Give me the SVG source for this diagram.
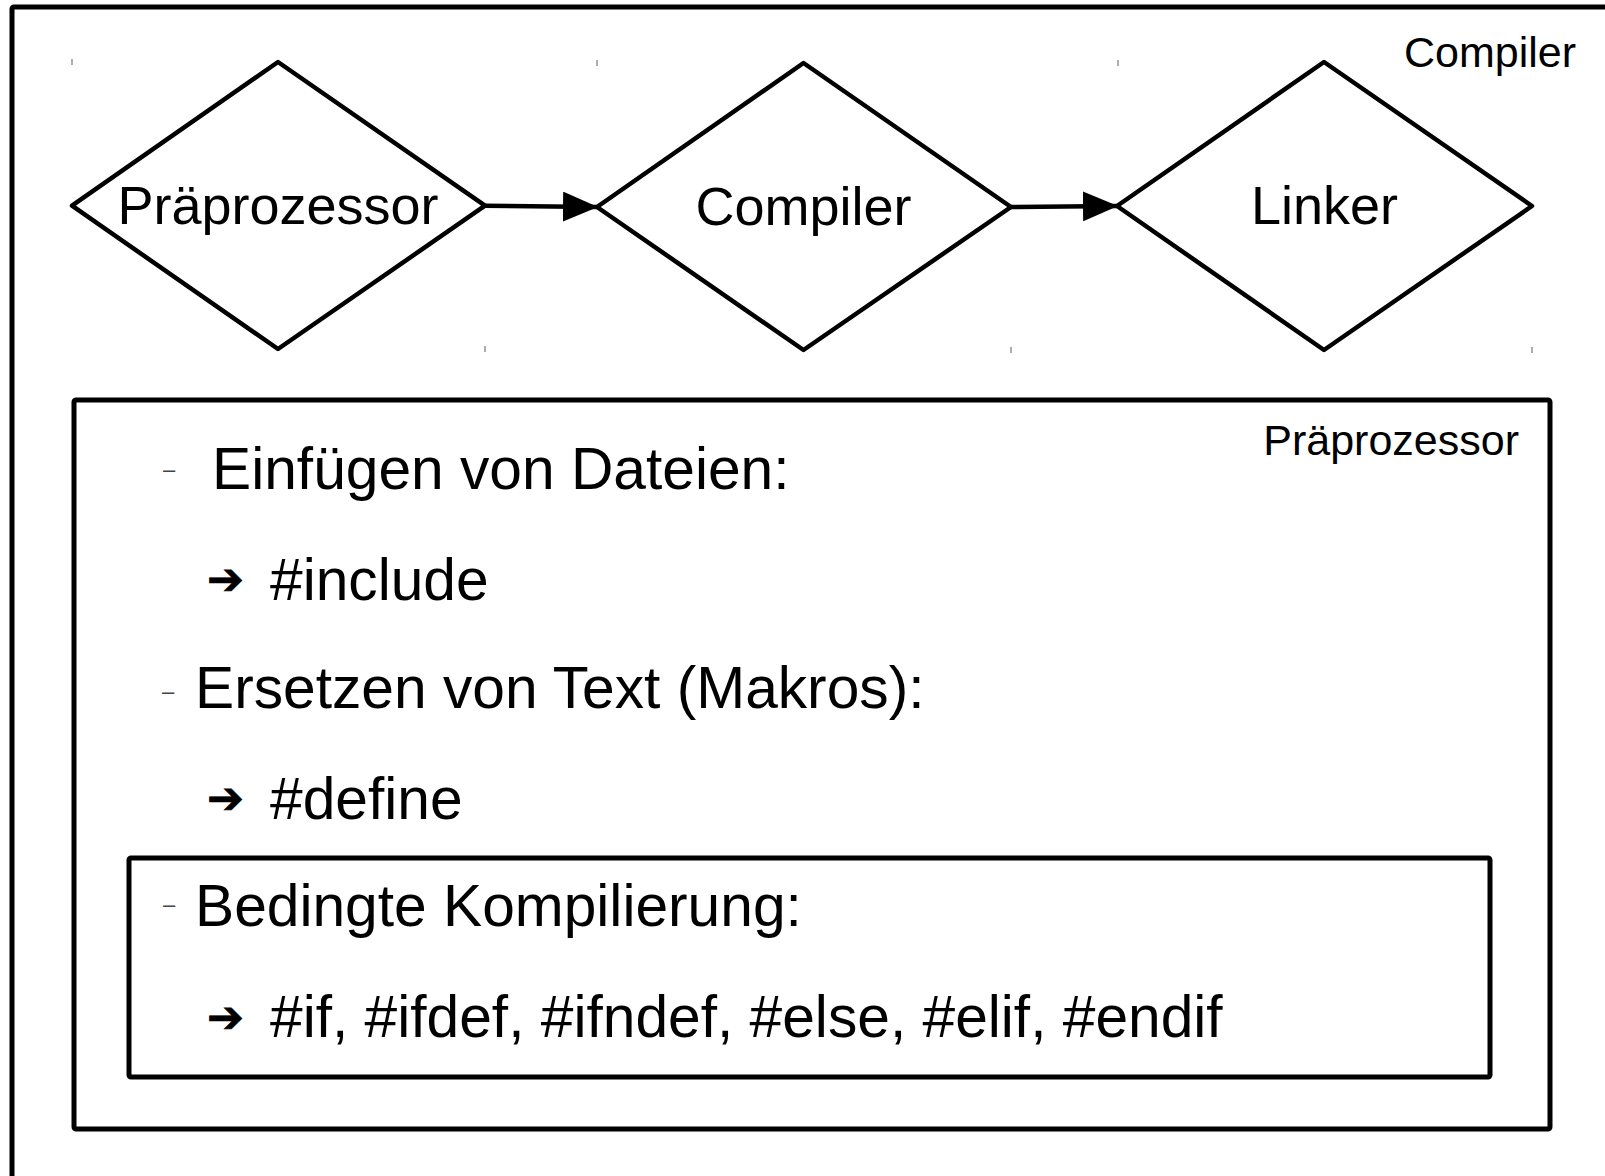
<svg xmlns="http://www.w3.org/2000/svg" width="1605" height="1176" viewBox="0 0 1605 1176">
<style>
.frame{fill:none;stroke:#000;stroke-width:5;stroke-linejoin:round}
.dia{fill:#fff;stroke:#000;stroke-width:4.5;stroke-linejoin:round}
.lbl{font-family:"Liberation Sans",Arial,sans-serif;fill:#000}
.dl{font-size:54px;text-anchor:middle}
.cl{font-size:43px;text-anchor:end}
.body{font-size:58.7px}
.dash{font-family:"Liberation Sans",Arial,sans-serif;font-size:22px;fill:#444}
.arr{font-family:"DejaVu Sans",sans-serif;font-size:44px;fill:#000;stroke:#000;stroke-width:0.8}
.tick{stroke:#777;stroke-width:1.2}
.conn{stroke:#000;stroke-width:4.5;fill:none}
</style>
<defs>
<marker id="ah" markerUnits="userSpaceOnUse" markerWidth="36" markerHeight="30" refX="34" refY="15" orient="auto">
<path d="M0,0 L35,15 L0,30 z" fill="#000"/>
</marker>
</defs>
<rect width="1605" height="1176" fill="#fff"/>
<g id="compiler-frame">
<rect class="frame" x="12" y="7" width="1700" height="1300" rx="2"/>
<text class="lbl cl" x="1576" y="67">Compiler</text>
</g>
<g id="ticks">
<line class="tick" x1="72" y1="59" x2="72" y2="65"/>
<line class="tick" x1="597" y1="60" x2="597" y2="66"/>
<line class="tick" x1="1118" y1="60" x2="1118" y2="66"/>
<line class="tick" x1="485" y1="346" x2="485" y2="352"/>
<line class="tick" x1="1011" y1="347" x2="1011" y2="353"/>
<line class="tick" x1="1532" y1="347" x2="1532" y2="353"/>
</g>
<g id="node-praeprozessor">
<polygon class="dia" points="72,205.7 278,62 485,205.7 278,349"/>
<text class="lbl dl" x="278" y="224">Präprozessor</text>
</g>
<g id="node-compiler">
<polygon class="dia" points="597,207 803.5,63 1011,207 803.5,350"/>
<text class="lbl dl" x="803.5" y="225">Compiler</text>
</g>
<g id="node-linker">
<polygon class="dia" points="1117,206 1324,62 1532,206 1324,350"/>
<text class="lbl dl" x="1324.5" y="224">Linker</text>
</g>
<g id="connectors">
<line class="conn" x1="485" y1="205.7" x2="597" y2="207" marker-end="url(#ah)"/>
<line class="conn" x1="1011" y1="207" x2="1117" y2="206" marker-end="url(#ah)"/>
</g>
<g id="praeprozessor-box">
<rect class="frame" x="74" y="400" width="1476" height="729" rx="2"/>
<text class="lbl cl" x="1519" y="455">Präprozessor</text>
<text class="dash" x="163" y="477">–</text>
<text class="lbl body" x="212" y="489">Einfügen von Dateien:</text>
<text class="arr" x="207" y="594">➔</text>
<text class="lbl body" x="270" y="600">#include</text>
<text class="dash" x="162" y="699">–</text>
<text class="lbl body" x="195" y="708">Ersetzen von Text (Makros):</text>
<text class="arr" x="207" y="813">➔</text>
<text class="lbl body" x="270" y="819">#define</text>
</g>
<g id="bedingte-box">
<rect class="frame" x="129" y="858" width="1361" height="219" rx="2"/>
<text class="dash" x="163" y="912">–</text>
<text class="lbl body" x="195" y="926">Bedingte Kompilierung:</text>
<text class="arr" x="207" y="1032">➔</text>
<text class="lbl body" x="270" y="1037">#if, #ifdef, #ifndef, #else, #elif, #endif</text>
</g>
</svg>
